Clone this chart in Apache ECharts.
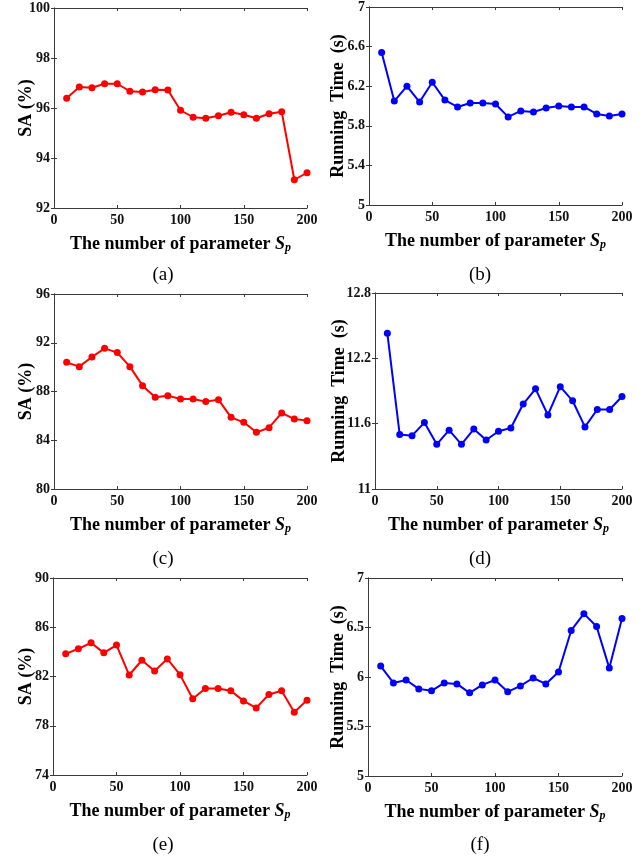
<!DOCTYPE html>
<html>
<head>
<meta charset="utf-8">
<script src="https://cdn.jsdelivr.net/npm/echarts@6/dist/echarts.min.js"></script>
<style>
  html, body { margin: 0; padding: 0; background: #fff; }
  #main { width: 643px; height: 860px; }
</style>
</head>
<body>
<div id="main"></div>
<script>
  // x values: the number of parameter Sp
  var sp = [10, 20, 30, 40, 50, 60, 70, 80, 90, 100, 110, 120, 130, 140, 150, 160, 170, 180, 190, 200];
  var xTicks = [0, 200, 50];

  // (a) SA / (b) running time
  var saA = [96.39, 96.84, 96.81, 96.97, 96.97, 96.67, 96.64, 96.73, 96.72, 95.91,
             95.63, 95.59, 95.69, 95.83, 95.73, 95.59, 95.77, 95.85, 93.13, 93.41];
  var timeB = [6.54, 6.05, 6.20, 6.04, 6.24, 6.06, 5.99, 6.03, 6.03, 6.02,
               5.89, 5.95, 5.94, 5.98, 6.00, 5.99, 5.99, 5.92, 5.90, 5.92];
  // (c) SA / (d) running time
  var saC = [90.39, 90.04, 90.83, 91.54, 91.19, 90.04, 88.48, 87.52, 87.66, 87.38,
             87.38, 87.17, 87.33, 85.88, 85.47, 84.65, 85.03, 86.24, 85.74, 85.61];
  var timeD = [12.43, 11.50, 11.49, 11.61, 11.41, 11.54, 11.41, 11.55, 11.45, 11.53,
               11.56, 11.78, 11.92, 11.68, 11.94, 11.81, 11.57, 11.73, 11.73, 11.85];
  // (e) SA / (f) running time
  var saE = [83.84, 84.25, 84.74, 83.92, 84.55, 82.12, 83.32, 82.45, 83.43, 82.15,
             80.19, 81.03, 81.03, 80.84, 80.02, 79.45, 80.54, 80.84, 79.10, 80.08];
  var timeF = [6.11, 5.94, 5.97, 5.88, 5.86, 5.94, 5.93, 5.84, 5.92, 5.97,
               5.85, 5.91, 5.99, 5.93, 6.05, 6.47, 6.64, 6.51, 6.09, 6.59];

  // y ranges [min, max, interval]
  var yTicksA = [92, 100, 2], yTicksB = [5, 7, 0.4];
  var yTicksC = [80, 96, 4],  yTicksD = [11, 12.8, 0.6];
  var yTicksE = [74, 90, 4],  yTicksF = [5, 7, 0.5];

  var RED = '#ff0000', BLUE = '#0000ff';
  var FONT = '"Liberation Serif", "Times New Roman", serif';

  var panels = [
    { box: [54, 8, 253, 200],    y: yTicksA, vals: saA,   color: RED,  yName: 'SA (%)', gap: 19, cap: '(a)', capXY: [163, 275] },
    { box: [369, 7, 253, 198],   y: yTicksB, vals: timeB, color: BLUE, yName: 'Running  Time  (s)', gap: 22, cap: '(b)', capXY: [480, 275] },
    { box: [54, 294, 253, 195],  y: yTicksC, vals: saC,   color: RED,  yName: 'SA (%)', gap: 19, cap: '(c)', capXY: [163, 559] },
    { box: [375, 293, 247, 196], y: yTicksD, vals: timeD, color: BLUE, yName: 'Running  Time  (s)', gap: 27, cap: '(d)', capXY: [480, 559] },
    { box: [53, 578, 254, 197],  y: yTicksE, vals: saE,   color: RED,  yName: 'SA (%)', gap: 18, cap: '(e)', capXY: [163, 845] },
    { box: [368, 578, 254, 198], y: yTicksF, vals: timeF, color: BLUE, yName: 'Running  Time  (s)', gap: 21, cap: '(f)', capXY: [480, 845] }
  ];

  var frameLine = { show: true, lineStyle: { color: '#3a3a3a', width: 1 } };
  var tick = { show: true, inside: true, length: 3, lineStyle: { color: '#3a3a3a' } };
  var lbl = { color: '#111', fontFamily: FONT, fontWeight: 'bold', fontSize: 14 };

  var grid = [], xAxis = [], yAxis = [], series = [], graphic = [];

  panels.forEach(function (p, i) {
    grid.push({ left: p.box[0], top: p.box[1], width: p.box[2], height: p.box[3], containLabel: false });

    // main x axis (bottom) and mirror (top) to close the box
    xAxis.push({
      type: 'value', gridIndex: i, min: xTicks[0], max: xTicks[1], interval: xTicks[2],
      position: 'bottom', axisLine: frameLine, axisTick: tick, splitLine: { show: false },
      axisLabel: Object.assign({ margin: 5 }, lbl),
      name: 'The number of parameter {s|S}{p|p}',
      nameLocation: 'middle', nameGap: 26, nameMoveOverlap: false,
      nameTextStyle: {
        color: '#000', fontFamily: FONT, fontWeight: 'bold', fontSize: 18,
        rich: {
          s: { fontFamily: FONT, fontWeight: 'bold', fontStyle: 'italic', fontSize: 18, color: '#000' },
          p: { fontFamily: FONT, fontWeight: 'bold', fontStyle: 'italic', fontSize: 12, color: '#000', verticalAlign: 'bottom', padding: [8, 0, 0, 0] }
        }
      }
    });
    xAxis.push({
      type: 'value', gridIndex: i, min: xTicks[0], max: xTicks[1], interval: xTicks[2],
      position: 'top', axisLine: frameLine, axisTick: tick, axisLabel: { show: false }, splitLine: { show: false }
    });

    // main y axis (left) and mirror (right)
    yAxis.push({
      type: 'value', gridIndex: i, min: p.y[0], max: p.y[1], interval: p.y[2],
      position: 'left', axisLine: frameLine, axisTick: tick, splitLine: { show: false },
      axisLabel: Object.assign({ margin: 4 }, lbl),
      name: p.yName, nameLocation: 'middle', nameGap: p.gap, nameRotate: 90, nameMoveOverlap: false,
      nameTextStyle: { color: '#000', fontFamily: FONT, fontWeight: 'bold', fontSize: 18 }
    });
    yAxis.push({
      type: 'value', gridIndex: i, min: p.y[0], max: p.y[1], interval: p.y[2],
      position: 'right', axisLine: frameLine, axisTick: tick, axisLabel: { show: false }, splitLine: { show: false }
    });

    series.push({
      type: 'line', xAxisIndex: i * 2, yAxisIndex: i * 2,
      data: sp.map(function (x, k) { return [x, p.vals[k]]; }),
      symbol: 'circle', symbolSize: 7,
      lineStyle: { color: p.color, width: 2 },
      itemStyle: { color: p.color },
      animation: false
    });

    graphic.push({
      type: 'text', x: p.capXY[0], y: p.capXY[1],
      style: { text: p.cap, fill: '#000', font: '19px ' + FONT, textAlign: 'center', textVerticalAlign: 'middle' }
    });
  });

  var myChart = echarts.init(document.getElementById('main'));
  myChart.setOption({
    animation: false,
    backgroundColor: '#fff',
    grid: grid,
    xAxis: xAxis,
    yAxis: yAxis,
    series: series,
    graphic: graphic
  });
</script>
</body>
</html>
